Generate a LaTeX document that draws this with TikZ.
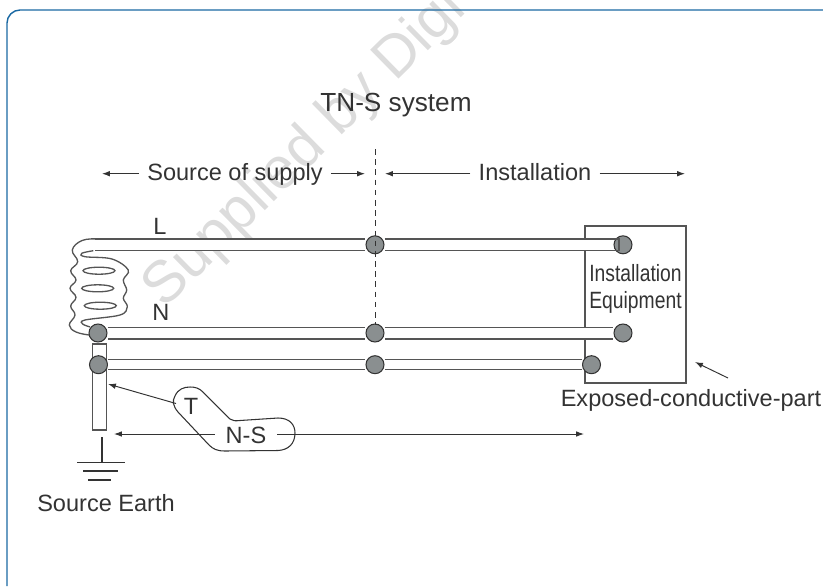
\documentclass[tikz,border=0pt]{standalone}
\usepackage{fontspec}
\setmainfont{Liberation Sans}
\usetikzlibrary{arrows.meta}
\definecolor{ink}{HTML}{333333}
\definecolor{cable}{HTML}{555555}
\definecolor{discgrey}{HTML}{8A8F90}
\definecolor{frameblue}{HTML}{1A69A3}
\definecolor{stamp}{HTML}{DCDCDC}
\begin{document}
\begin{tikzpicture}[x=0.02cm,y=-0.02cm]
\tikzstyle{disc}=[draw=ink,circle,inner sep=0pt,minimum size=0.36cm,fill=discgrey,line width=0.6pt]
\tikzstyle{wire}=[draw=cable,line width=0.75pt,double=white,double distance=5.9pt]
\tikzstyle{earthwire}=[draw=cable,line width=0.75pt,double=white,double distance=4.9pt]
\tikzstyle{thin}=[draw=ink,line width=0.6pt]
\tikzstyle{pointer}=[draw=ink,line width=0.55pt,-{Latex[length=4.5pt,width=3.2pt]}]
\tikzstyle{caption}=[text=ink,font=\fontsize{13.4}{16}\selectfont,inner sep=4.5pt,text height=8pt,text depth=2.6pt]
\useasboundingbox (0,0) rectangle (823,586);
\begin{scope}
\clip (0,0) -- (493,0) -- (0,493) -- cycle;
\node [text=stamp,font=\fontsize{33.5}{34}\selectfont,rotate=44.5,anchor=base west,inner sep=0pt] (w) at (164,310) {Supplied by Digi};
\end{scope}
\coordinate (f1) at (7,586);
\coordinate (f2) at (7,10);
\coordinate (f3) at (823,10);
\draw [frameblue,line width=0.8pt,rounded corners=0.26cm] (f1) -- (f2) -- (f3);
\node [draw=cable,line width=0.75pt,minimum width=2.02cm,minimum height=3.14cm,inner sep=0pt] (b) at (635.5,304.5) {};
\node [draw=cable,line width=0.75pt,minimum width=0.27cm,minimum height=1.72cm,inner sep=0pt] (e) at (99.5,387) {};
\coordinate (l0) at (95,244.8);
\node [disc] (a) at (98,333) {};
\node [disc] (c) at (98.5,364.7) {};
\node [disc] (m) at (375,244.8) {};
\node [disc] (n) at (375,333) {};
\node [disc] (s) at (375,364.7) {};
\node [disc] (p) at (623,244.8) {};
\node [disc] (q) at (623,333) {};
\node [disc] (r) at (591.5,364.7) {};
\draw [wire] (l0) -- (m);
\draw [wire] (m) -- (p);
\draw [wire] (a) -- (n);
\draw [wire] (n) -- (q);
\draw [earthwire] (c) -- (s);
\draw [earthwire] (s) -- (r);
\coordinate (l2) at (613,238.9);
\coordinate (l3) at (619,238.9);
\coordinate (l4) at (619,250.7);
\coordinate (l5) at (613,250.7);
\draw [cable,line width=0.75pt] (l2) -- (l3) -- (l4) -- (l5);
\coordinate (d0) at (375,149);
\coordinate (d1) at (375,325);
\draw [thin,line width=0.5pt,dash pattern=on 3.2pt off 2.6pt] (d0) -- (d1);
\draw [cable,line width=0.75pt] plot [smooth,tension=0.7] coordinates {(97,238.9) (82,240.5) (72.3,250) (77.7,261.7) (70.7,270.7) (76,280) (70,288.3) (76,297.3) (70.7,306) (75,315) (69.3,325) (76,332) (89.3,335)};
\draw [cable,line width=0.75pt] plot [smooth,tension=0.6] coordinates {(93.3,250.7) (81.7,253.3) (85,256.7) (112,259) (128.3,270) (123.3,280) (126.7,290) (123.3,298.3) (127.3,306.7) (120,315) (85,320) (82.7,324) (90,326.9)};
\draw [cable,line width=0.75pt] (99,270.7) ellipse (16 and 3.5);
\draw [cable,line width=0.75pt] (97.7,288.3) ellipse (16 and 3.5);
\draw [cable,line width=0.75pt] (100.3,305.7) ellipse (16 and 3.5);
\coordinate (g0) at (102,437);
\coordinate (g1) at (102,462.5);
\coordinate (g2) at (77,462.5);
\coordinate (g3) at (125,462.5);
\coordinate (g4) at (83,471);
\coordinate (g5) at (118,471);
\coordinate (g6) at (88,480);
\coordinate (g7) at (111,480);
\draw [thin] (g0) -- (g1);
\draw [thin] (g2) -- (g3);
\draw [thin] (g4) -- (g5);
\draw [thin] (g6) -- (g7);
\draw [thin] (203,392) -- (230,419) .. controls (233,421) and (235,421) .. (240,420.5) -- (278,418) .. controls (290,418) and (295,425) .. (295,433) .. controls (295,444) and (288,450) .. (278,450.5) -- (225,451) .. controls (217,451) and (213,449) .. (209,445) -- (178,412) .. controls (173,406) and (172,401) .. (175,396) .. controls (178,389) and (184,387) .. (190,387) .. controls (195,387) and (199,388) .. (203,392) -- cycle;
\node [caption,font=\fontsize{14.9}{18}\selectfont] (title) at (396,107) {TN-S system};
\node [caption] (src) at (235,175.7) {Source of supply};
\node [caption] (ins) at (535,175.7) {Installation};
\node [caption] (L) at (160,229.9) {L};
\node [caption] (N) at (161,316.2) {N};
\node [caption,xscale=0.82,transform shape,inner sep=0pt] (ia) at (635.5,277) {Installation};
\node [caption,xscale=0.82,transform shape,inner sep=0pt] (ib) at (635.5,303.7) {Equipment};
\node [caption,inner sep=0pt] (x) at (691,402) {Exposed-conductive-part};
\node [caption,inner sep=0pt] (t) at (191,409.9) {T};
\node [caption,inner sep=6pt] (ns) at (246,438.9) {N-S};
\node [caption,inner sep=0pt] (se) at (106,507) {Source Earth};
\coordinate (s1) at (102,173.7);
\coordinate (s2) at (365,173.7);
\coordinate (i1) at (385,173.7);
\coordinate (i2) at (685,173.7);
\coordinate (x1) at (728,378);
\coordinate (x2) at (695,362);
\coordinate (t1) at (176,403.5);
\coordinate (t2) at (108,384);
\coordinate (k1) at (114,434);
\coordinate (k2) at (584,434);
\draw [pointer] (src.west |- s1) -- (s1);
\draw [pointer] (src.east |- s2) -- (s2);
\draw [pointer] (ins.west |- i1) -- (i1);
\draw [pointer] (ins.east |- i2) -- (i2);
\draw [pointer] (x1) -- (x2);
\draw [pointer] (t1) -- (t2);
\draw [pointer] (ns.west |- k1) -- (k1);
\draw [pointer] (ns.east |- k2) -- (k2);
\end{tikzpicture}
\end{document}
